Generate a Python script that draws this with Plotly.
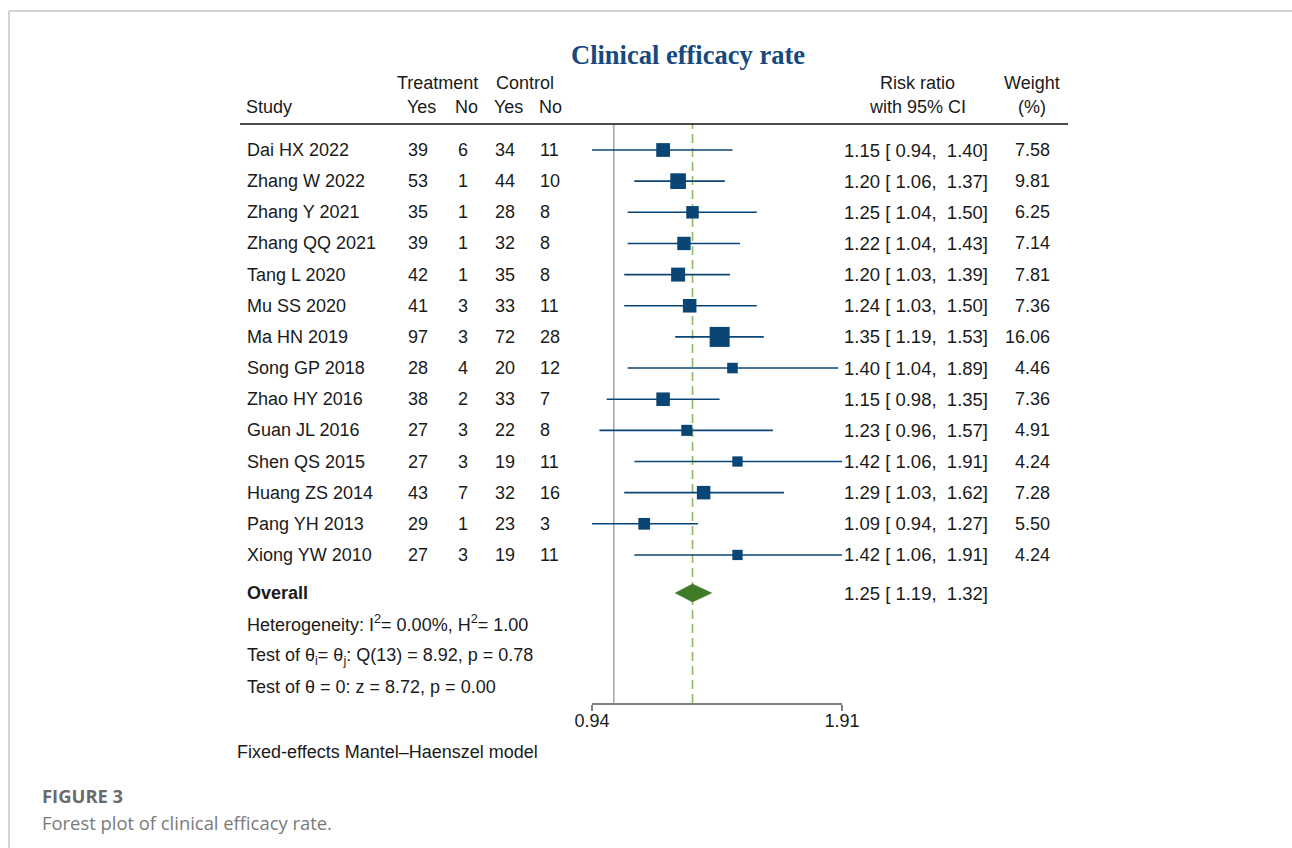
import math
import plotly.graph_objects as go

# ---------------- data ----------------
studies = ["Dai HX 2022", "Zhang W 2022", "Zhang Y 2021", "Zhang QQ 2021", "Tang L 2020",
           "Mu SS 2020", "Ma HN 2019", "Song GP 2018", "Zhao HY 2016", "Guan JL 2016",
           "Shen QS 2015", "Huang ZS 2014", "Pang YH 2013", "Xiong YW 2010"]
treat_yes = [39, 53, 35, 39, 42, 41, 97, 28, 38, 27, 27, 43, 29, 27]
treat_no = [6, 1, 1, 1, 1, 3, 3, 4, 2, 3, 3, 7, 1, 3]
ctrl_yes = [34, 44, 28, 32, 35, 33, 72, 20, 33, 22, 19, 32, 23, 19]
ctrl_no = [11, 10, 8, 8, 8, 11, 28, 12, 7, 8, 11, 16, 3, 11]
rr = [1.15, 1.20, 1.25, 1.22, 1.20, 1.24, 1.35, 1.40, 1.15, 1.23, 1.42, 1.29, 1.09, 1.42]
rr_lo = [0.94, 1.06, 1.04, 1.04, 1.03, 1.03, 1.19, 1.04, 0.98, 0.96, 1.06, 1.03, 0.94, 1.06]
rr_hi = [1.40, 1.37, 1.50, 1.43, 1.39, 1.50, 1.53, 1.89, 1.35, 1.57, 1.91, 1.62, 1.27, 1.91]
weights = [7.58, 9.81, 6.25, 7.14, 7.81, 7.36, 16.06, 4.46, 7.36, 4.91, 4.24, 7.28, 5.50, 4.24]
overall_rr, overall_lo, overall_hi = 1.25, 1.19, 1.32
axis_ticks = [0.94, 1.91]
axis_ticklabels = ["0.94", "1.91"]

# ---------------- layout helpers ----------------
W, H = 1292, 848
ROW0, ROWSTEP = 150.0, 31.15          # pixel y of first row, row spacing
TOP_PX, BOT_PX = 124.0, 703.0         # plot region (header rule to axis)
X0_PX, X1_PX = 592.0, 842.0           # x axis extent in pixels


def px(x):
    return x / W


def py(y):
    return 1 - y / H


def row_of(pix):
    return (pix - ROW0) / ROWSTEP


FONT = "Liberation Sans, Arial, sans-serif"
FS = 18
TXT = "#1a1a1a"
NAVY = "#0a4675"
GREEN = "#3f7a27"
DASH_GREEN = "#8dba68"

rows = list(range(len(studies)))
overall_row = row_of(593)

fig = go.Figure()

# confidence interval lines
ci_x, ci_y = [], []
for r, lo, hi in zip(rows, rr_lo, rr_hi):
    ci_x += [lo, hi, None]
    ci_y += [r, r, None]
fig.add_trace(go.Scatter(x=ci_x, y=ci_y, mode="lines",
                         line=dict(color=NAVY, width=1.6), hoverinfo="skip", showlegend=False))

# weighted squares
fig.add_trace(go.Scatter(x=rr, y=rows, mode="markers",
                         marker=dict(symbol="square", color=NAVY, opacity=1,
                                     size=[5.0 * math.sqrt(w) for w in weights],
                                     line=dict(width=0)),
                         showlegend=False))

# overall diamond
dh = 9.0 / ROWSTEP
fig.add_trace(go.Scatter(x=[overall_lo, overall_rr, overall_hi, overall_rr, overall_lo],
                         y=[overall_row, overall_row - dh, overall_row, overall_row + dh, overall_row],
                         mode="lines", fill="toself", fillcolor=GREEN,
                         line=dict(color=GREEN, width=0.5), showlegend=False, hoverinfo="skip"))

shapes = []
# null line at 1
shapes.append(dict(type="line", xref="x", yref="y domain", x0=1, x1=1, y0=0, y1=1, layer="below",
                   line=dict(color="#a3a3a3", width=1.5)))
# overall dashed line
shapes.append(dict(type="line", xref="x", yref="y domain", x0=overall_rr, x1=overall_rr, y0=0, y1=1,
                   layer="below", line=dict(color=DASH_GREEN, width=1.6, dash="9px,5px")))
# header rule
shapes.append(dict(type="line", xref="paper", yref="paper", x0=px(240), x1=px(1068),
                   y0=py(124), y1=py(124), line=dict(color="#111111", width=1.6)))
# page frame
shapes.append(dict(type="line", xref="paper", yref="paper", x0=px(9), x1=1, y0=py(11), y1=py(11),
                   line=dict(color="#c4c4c4", width=1.5)))
shapes.append(dict(type="line", xref="paper", yref="paper", x0=px(9), x1=px(9), y0=py(11), y1=0,
                   line=dict(color="#c4c4c4", width=1.5)))

ann = []


def add_text(text, x, y, anchor="left", yref="paper", size=FS, color=TXT, family=FONT):
    ann.append(dict(text=text, x=x, y=y, xref="paper", yref=yref, xanchor=anchor, yanchor="middle",
                    showarrow=False, font=dict(family=family, size=size, color=color)))


nb = "\u00a0"
# title
add_text("<b>Clinical efficacy rate</b>", px(688), py(55), anchor="center", size=26.5,
         color="#174a7c", family="Liberation Serif, Times New Roman, serif")
# headers
add_text("Treatment", px(437), py(83), anchor="center")
add_text("Control", px(524.5), py(83), anchor="center")
add_text("Study", px(244), py(107))
for lab, xc in [("Yes", 405), ("No", 453), ("Yes", 492), ("No", 537)]:
    add_text(lab, px(xc), py(107))
add_text("Risk ratio", px(917), py(83), anchor="center")
add_text("with 95% CI", px(917), py(107), anchor="center")
add_text("Weight", px(1032), py(83), anchor="center")
add_text("(%)", px(1032), py(107), anchor="center")

# per-study rows
for r in rows:
    add_text(studies[r], px(245), r, yref="y")
    add_text(str(treat_yes[r]), px(406), r, yref="y")
    add_text(str(treat_no[r]), px(456), r, yref="y")
    add_text(str(ctrl_yes[r]), px(493), r, yref="y")
    add_text(str(ctrl_no[r]), px(538), r, yref="y")
    s = f"{rr[r]:.2f} [{rr_lo[r]:5.2f}, {rr_hi[r]:5.2f}]".replace(" ", nb)
    add_text(s, px(842), r, yref="y", size=18.5)
    add_text(f"{weights[r]:.2f}", px(1052), r, anchor="right", yref="y")

# overall row and statistics
add_text("<b>Overall</b>", px(245), overall_row, yref="y")
add_text(f"{overall_rr:.2f} [{overall_lo:5.2f}, {overall_hi:5.2f}]".replace(" ", nb), px(842),
         overall_row, yref="y", size=18.5)
add_text("Heterogeneity: I<sup>2</sup>= 0.00%, H<sup>2</sup>= 1.00", px(245), py(623))
add_text("Test of θ<sub>i</sub>= θ<sub>j</sub>: Q(13) = 8.92, p = 0.78", px(245), py(656))
add_text("Test of θ = 0: z = 8.72, p = 0.00", px(245), py(687))
add_text("Fixed-effects Mantel–Haenszel model", px(235), py(752))

# caption
add_text("<b>FIGURE 3</b>", px(40), py(795), size=18.4, color="#6a6a6a", family="Open Sans, sans-serif")
add_text("Forest plot of clinical efficacy rate.", px(40), py(822), size=18.4, color="#7a7a7a",
         family="Open Sans, sans-serif")

fig.update_layout(
    width=W, height=H, autosize=False,
    margin=dict(l=0, r=0, t=0, b=0, pad=0, autoexpand=False),
    paper_bgcolor="white", plot_bgcolor="white",
    xaxis=dict(type="log", range=[math.log10(0.94), math.log10(1.91)],
               domain=[px(X0_PX), px(X1_PX)],
               tickvals=axis_ticks, ticktext=axis_ticklabels,
               ticks="outside", ticklen=6, tickwidth=1.5, tickcolor="#808080",
               showline=True, linecolor="#808080", linewidth=1.5,
               showgrid=False, zeroline=False, automargin=False, ticklabelstandoff=-5,
               tickfont=dict(family=FONT, size=FS, color=TXT)),
    yaxis=dict(range=[row_of(BOT_PX), row_of(TOP_PX)], domain=[py(BOT_PX), py(TOP_PX)],
               visible=False, showgrid=False, zeroline=False, automargin=False),
    shapes=shapes, annotations=ann, showlegend=False,
)

fig.write_html("out.html", config={"responsive": False, "displayModeBar": False},
               post_script="document.body.style.margin='0';document.body.style.overflow='hidden';")
